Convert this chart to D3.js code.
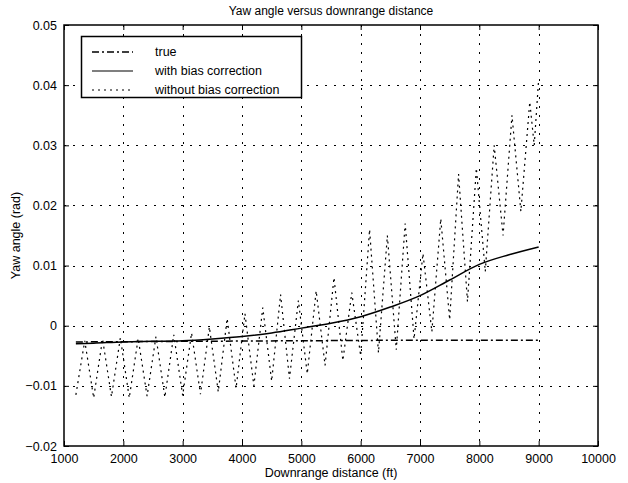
<!DOCTYPE html>
<html>
<head>
<meta charset="utf-8">
<script src="https://cdn.jsdelivr.net/npm/d3@7"></script>
<style>
	body { margin: 0; background: #fff; }
	text { font-family: "Liberation Sans", Arial, sans-serif; fill: #000; }
</style>
</head>
<body>
<div id="chart"></div>
<script>
// axis ticks
const xTicks = [1000, 2000, 3000, 4000, 5000, 6000, 7000, 8000, 9000, 10000];
const yTicks = [-0.02, -0.01, 0, 0.01, 0.02, 0.03, 0.04, 0.05];

// true yaw angle
const trueX = [1200, 3000, 5000, 7000, 9000];
const trueY = [-0.0027, -0.0026, -0.0025, -0.0024, -0.0024];

// with bias correction
const biasX = [1200, 1500, 2000, 2500, 3000, 3500, 4000, 4500, 5000, 5500, 6000, 6500, 7000, 7500, 8000, 8500, 9000];
const biasY = [-0.0030, -0.0029, -0.0027, -0.0026, -0.0025, -0.0022, -0.0018, -0.0012, -0.0004, 0.0004, 0.0015, 0.0031, 0.0050, 0.0076, 0.0102, 0.0118, 0.0131];

// without bias correction (turning points of the oscillation)
const noBiasX = [1200, 1350, 1500, 1650, 1800, 1950, 2100, 2250, 2400, 2550, 2700, 2850, 3000, 3150, 3300, 3450,
	3600, 3750, 3900, 4050, 4200, 4350, 4500, 4650, 4800, 4950, 5100, 5250, 5400, 5550, 5700, 5850,
	6000, 6150, 6300, 6450, 6600, 6750, 6900, 7050, 7200, 7350, 7500, 7650, 7800, 7950, 8100, 8250,
	8400, 8550, 8700, 8850, 8925, 9000];
const noBiasY = [-0.0115, -0.0025, -0.0120, -0.0022, -0.0118, -0.0020, -0.0120, -0.0021, -0.0117, -0.0018, -0.0119, -0.0015, -0.0116, -0.0012, -0.0114, -0.0002,
	-0.0110, 0.0012, -0.0104, 0.0020, -0.0100, 0.0030, -0.0092, 0.0052, -0.0088, 0.0042, -0.0080, 0.0058, -0.0066, 0.0080, -0.0058, 0.0055,
	-0.0050, 0.0160, -0.0045, 0.0150, -0.0040, 0.0170, -0.0022, 0.0120, -0.0010, 0.0178, 0.0010, 0.0252, 0.0040, 0.0262, 0.0090, 0.0300,
	0.0150, 0.0350, 0.0190, 0.0372, 0.0300, 0.0410];

const legendNames = ["true", "with bias correction", "without bias correction"];

drawchart()

function drawchart() {
	const width = 628;
	const height = 483;
	const left = 64, right = 598, top = 25, bottom = 446;

	const svg = d3.select("#chart")
		.append("svg")
		.attr("width", width)
		.attr("height", height);

	const x = d3.scaleLinear().domain([1000, 10000]).range([left, right]);
	const y = d3.scaleLinear().domain([-0.02, 0.05]).range([bottom, top]);

	// grid
	const grid = svg.append("g")
		.attr("stroke", "#000")
		.attr("stroke-width", 1)
		.attr("stroke-dasharray", "2,7");
	grid.selectAll(".gx")
		.data(xTicks.slice(1, -1))
		.enter()
		.append("line")
		.attr("x1", d => Math.round(x(d)) + 0.5)
		.attr("x2", d => Math.round(x(d)) + 0.5)
		.attr("y1", top)
		.attr("y2", bottom);
	grid.selectAll(".gy")
		.data(yTicks.slice(1, -1))
		.enter()
		.append("line")
		.attr("y1", d => Math.round(y(d)) + 0.5)
		.attr("y2", d => Math.round(y(d)) + 0.5)
		.attr("x1", left)
		.attr("x2", right);

	// lines
	const line = d3.line()
		.x(d => x(d[0]))
		.y(d => y(d[1]));

	svg.append("path")
		.datum(d3.zip(noBiasX, noBiasY))
		.attr("d", line.curve(d3.curveLinear))
		.attr("fill", "none")
		.attr("stroke", "#000")
		.attr("stroke-width", 1.2)
		.attr("stroke-dasharray", "2,4");

	svg.append("path")
		.datum(d3.zip(trueX, trueY))
		.attr("d", line.curve(d3.curveLinear))
		.attr("fill", "none")
		.attr("stroke", "#000")
		.attr("stroke-width", 1.5)
		.attr("stroke-dasharray", "7,3,2,3");

	svg.append("path")
		.datum(d3.zip(biasX, biasY))
		.attr("d", line.curve(d3.curveMonotoneX))
		.attr("fill", "none")
		.attr("stroke", "#000")
		.attr("stroke-width", 1.5);

	// axes (ticks pointing inward on all four sides)
	svg.append("g")
		.attr("transform", `translate(0,${bottom})`)
		.call(d3.axisBottom(x).tickValues(xTicks).tickSizeInner(-5).tickSizeOuter(0).tickPadding(8).tickFormat(d3.format("d")));
	svg.append("g")
		.attr("transform", `translate(${left},0)`)
		.call(d3.axisLeft(y).tickValues(yTicks).tickSizeInner(-5).tickSizeOuter(0).tickPadding(7).tickFormat(d => d === 0 ? "0" : d3.format(".2f")(d)));
	svg.append("g")
		.attr("transform", `translate(0,${top})`)
		.call(d3.axisTop(x).tickValues(xTicks).tickSizeInner(-5).tickSizeOuter(0).tickFormat(""));
	svg.append("g")
		.attr("transform", `translate(${right},0)`)
		.call(d3.axisRight(y).tickValues(yTicks).tickSizeInner(-5).tickSizeOuter(0).tickFormat(""));

	svg.selectAll(".domain").remove();
	svg.selectAll(".tick text")
		.style("font-size", "12.5px")
		.style("font-family", "Liberation Sans, Arial, sans-serif");

	// frame
	svg.append("rect")
		.attr("x", left)
		.attr("y", top)
		.attr("width", right - left)
		.attr("height", bottom - top)
		.attr("fill", "none")
		.attr("stroke", "#000")
		.attr("stroke-width", 1.5);

	// titles
	svg.append("text")
		.attr("x", (left + right) / 2)
		.attr("y", 15)
		.attr("text-anchor", "middle")
		.style("font-size", "12px")
		.text("Yaw angle versus downrange distance");
	svg.append("text")
		.attr("x", (left + right) / 2)
		.attr("y", 477)
		.attr("text-anchor", "middle")
		.style("font-size", "12.5px")
		.text("Downrange distance (ft)");
	svg.append("text")
		.attr("transform", `translate(${20},${(top + bottom) / 2}) rotate(-90)`)
		.attr("text-anchor", "middle")
		.style("font-size", "12.5px")
		.text("Yaw angle (rad)");

	// legend
	const legend = svg.append("g").attr("id", "legend");
	legend.append("rect")
		.attr("x", 81.5)
		.attr("y", 36.5)
		.attr("width", 220)
		.attr("height", 61)
		.attr("fill", "#fff")
		.attr("stroke", "#000")
		.attr("stroke-width", 1.5);

	const dashes = ["7,3,2,3", null, "2,4"];
	const widths = [1.5, 1.2, 1.2];
	const rows = legend.selectAll(".row")
		.data(legendNames)
		.enter()
		.append("g")
		.attr("transform", (d, i) => `translate(0,${52 + i * 19})`);
	rows.append("line")
		.attr("x1", 92)
		.attr("x2", 133)
		.attr("y1", 0)
		.attr("y2", 0)
		.attr("stroke", "#000")
		.attr("stroke-width", (d, i) => widths[i])
		.attr("stroke-dasharray", (d, i) => dashes[i]);
	rows.append("text")
		.attr("x", 155)
		.attr("dy", "0.35em")
		.style("font-size", "12.5px")
		.text(d => d);
}
</script>
</body>
</html>
